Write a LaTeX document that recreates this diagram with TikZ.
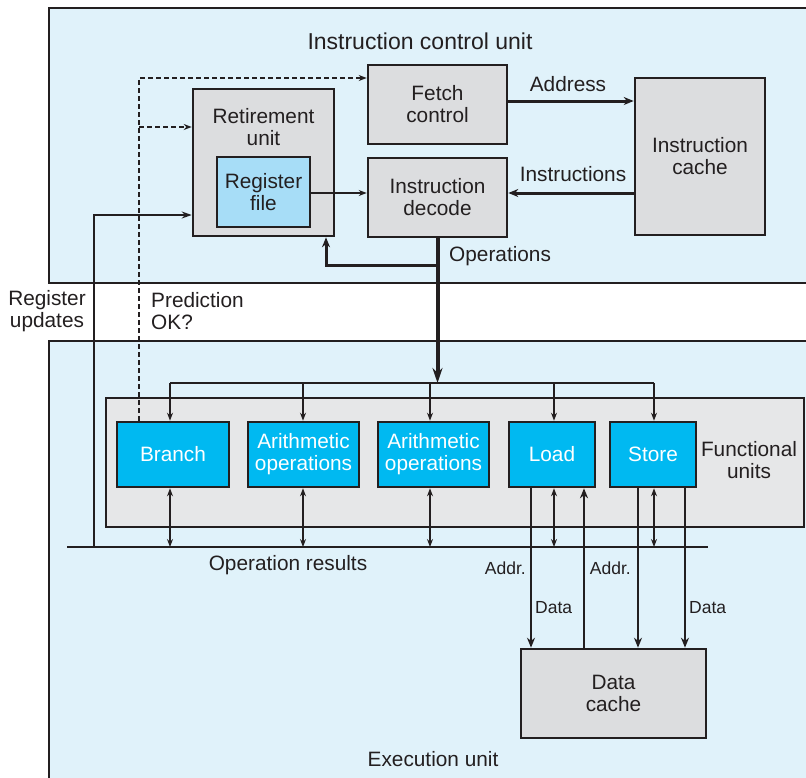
\documentclass[tikz,border=0pt]{standalone}
\usepackage{fontspec}
\setmainfont{Liberation Sans}
\usetikzlibrary{arrows.meta,calc}
\definecolor{panel}{HTML}{E0F2FA}
\definecolor{ink}{HTML}{231F20}
\definecolor{boxgray}{HTML}{DCDDDF}
\definecolor{fugray}{HTML}{E6E7E8}
\definecolor{fucyan}{HTML}{00B9F1}
\definecolor{regblue}{HTML}{A7DDF7}
\begin{document}
\begin{tikzpicture}[x=1pt,y=-1pt,
  txt/.style={font=\fontsize{20.8}{22}\selectfont,text=ink,align=center,inner sep=0pt},
  small/.style={font=\fontsize{17.5}{19}\selectfont,text=ink,inner sep=0pt},
  graybox/.style={draw=ink,line width=2.6pt,fill=boxgray,txt},
  fubox/.style={draw=ink,line width=2.6pt,fill=fucyan,txt,text=white,minimum height=65pt},
  thinarr/.style={draw=ink,line width=1.1pt,-{Stealth[length=8pt,width=6pt]}},
  botharr/.style={draw=ink,line width=1.1pt,{Stealth[length=8pt,width=6pt]}-{Stealth[length=8pt,width=6pt]}},
  medarr/.style={draw=ink,line width=2.6pt,-{Stealth[length=10pt,width=8pt]}},
  dasharr/.style={draw=ink,line width=1.6pt,dash pattern=on 5pt off 3pt,-{Stealth[length=8pt,width=6pt]}},
  thinline/.style={draw=ink,line width=1.1pt}]
\useasboundingbox (0,0) rectangle (806,777);
\clip (0,0) rectangle (806,777);
\fill[white] (0,0) rectangle (806,777);
% panels
\fill[panel] (49,8) rectangle (840,283);
\draw[ink,line width=2.4pt] (840,8) -- (49,8) -- (49,283) -- (840,283);
\fill[panel] (49,341) rectangle (840,800);
\draw[ink,line width=2.4pt] (840,341) -- (49,341) -- (49,800);
\node[txt,font=\fontsize{23}{25}\selectfont] (icutitle) at (420,41) {Instruction control unit};
\node[txt] (eutitle) at (433,759) {Execution unit};

% instruction control boxes
\node[graybox,minimum width=139pt,minimum height=79pt] (fetch) at (437.5,104.5) {Fetch\\control};
\node[graybox,minimum width=139pt,minimum height=79pt] (decode) at (437.5,197.5) {Instruction\\decode};
\node[graybox,minimum width=130pt,minimum height=157pt] (icache) at (700,156.5) {Instruction\\cache};
\node[graybox,minimum width=141pt,minimum height=147pt] (retire) at (263.5,162.5) {};
\node[txt] (retiretxt) at (263.5,127) {Retirement\\unit};
\node[draw=ink,line width=2.6pt,fill=regblue,txt,minimum width=93pt,minimum height=70pt] (regfile) at (263.5,192) {Register\\file};

\draw[line width=3pt,ink,-{Stealth[length=10pt,width=8pt]}] (fetch.east |- 0,101) -- (icache.west |- 0,101);
\node[txt] (addrlbl) at (568,84) {Address};
\draw[line width=3pt,ink,-{Stealth[length=10pt,width=8pt]}] (icache.west |- 0,193) -- (decode.east |- 0,193);
\node[txt] (instrlbl) at (573,174) {Instructions};
\draw[thinarr] (regfile.east |- 0,193) -- (decode.west |- 0,193);

% functional units
\node[draw=ink,line width=2.4pt,fill=fugray,minimum width=698pt,minimum height=129pt,inner sep=0pt] (fu) at (455,462.5) {};
\node[txt] (fulbl) at (749,460) {Functional\\units};
\node[fubox,minimum width=112pt] (branch) at (173,454.5) {Branch};
\node[fubox,minimum width=111pt] (arith1) at (303.5,454.5) {Arithmetic\\operations};
\node[fubox,minimum width=111pt] (arith2) at (433.5,454.5) {Arithmetic\\operations};
\node[fubox,minimum width=86pt] (load) at (552,454.5) {Load};
\node[fubox,minimum width=86pt] (store) at (653,454.5) {Store};
\node[graybox,minimum width=185pt,minimum height=89pt] (dcache) at (613.5,693.5) {Data\\cache};

% coordinates
\coordinate (xb) at (170,383);
\coordinate (xa1) at (303,383);
\coordinate (xa2) at (430,383);
\coordinate (xl) at (554,383);
\coordinate (xs) at (654,383);
\coordinate (busl) at (67,547);
\coordinate (busr) at (708,547);
\coordinate (opsplit) at (437.5,265);
\coordinate (ruret) at (326,265);
\coordinate (regupd) at (94,547);
\coordinate (dash) at (139,78);

% operations
\draw[ink,line width=3pt,-{Stealth[length=10pt,width=8pt]}] (opsplit) -- (ruret) -- (ruret |- retire.south);
\draw[ink,line width=4pt,-{Stealth[length=15pt,width=10pt]}] (decode.south) -- (decode.south |- xb);
\node[txt,anchor=west] (opslbl) at (449,256) {Operations};
\draw[thinline] (xb) -- (xs);
\foreach \c/\n in {xb/branch,xa1/arith1,xa2/arith2,xl/load,xs/store}{
  \draw[thinarr] (\c) -- (\c |- \n.north);
  \draw[botharr] (\c |- \n.south) -- (\c |- busl);
}
% bus
\draw[ink,line width=2.2pt] (busl) -- (busr);
\node[txt] (oplbl) at (288,565) {Operation results};
% register updates
\draw[ink,line width=2.2pt,-{Stealth[length=10pt,width=7pt]}] (regupd) -- (regupd |- 0,215) -- (retire.west |- 0,215);
\node[txt] (rulbl) at (47,311) {Register\\updates};
% prediction
\draw[dasharr] (dash |- branch.north) -- (dash) -- (fetch.west |- dash);
\draw[dasharr] (dash |- 0,127) -- (retire.west |- 0,127);
\node[txt,anchor=west,align=left] (predlbl) at (151,311) {Prediction\\OK?};
% load/store
\coordinate (l1) at (531,600);
\coordinate (l2) at (584,600);
\coordinate (s1) at (638,600);
\coordinate (s2) at (685,600);
\draw[medarr] (l1 |- load.south) -- (l1 |- dcache.north);
\draw[medarr] (l2 |- dcache.north) -- (l2 |- load.south);
\draw[medarr] (s1 |- store.south) -- (s1 |- dcache.north);
\draw[medarr] (s2 |- store.south) -- (s2 |- dcache.north);
\node[small,anchor=east] (addr1) at (526,568) {Addr.};
\node[small,anchor=east] (addr2) at (631,568) {Addr.};
\node[small,anchor=west] (data1) at (535,608) {Data};
\node[small,anchor=west] (data2) at (689,608) {Data};
\end{tikzpicture}
\end{document}
